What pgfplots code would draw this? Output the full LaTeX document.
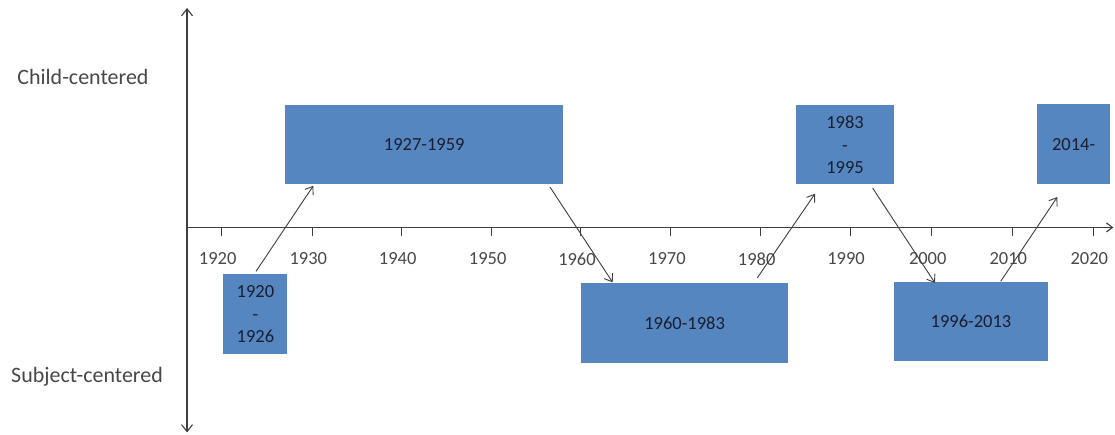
\documentclass[border=0pt]{standalone}
\usepackage{pgfplots}
\pgfplotsset{compat=1.18}
\usepackage{fontspec}
\setmainfont{Carlito}
\usetikzlibrary{arrows.meta}

\definecolor{boxblue}{RGB}{85,134,192}
\definecolor{boxtext}{RGB}{25,30,48}
\definecolor{axisgray}{RGB}{62,62,62}
\definecolor{labelgray}{RGB}{72,72,72}

\begin{document}
\begin{tikzpicture}
\begin{axis}[
    scale only axis,
    width=927.4pt, height=425pt,
    xmin=1916.14, xmax=2019.3,
    ymin=-205.3, ymax=219.7,
    axis x line=middle,
    axis y line=left,
    x axis line style={-{Straight Barb[length=6pt,width=9pt]}},
    y axis line style={{Straight Barb[length=7pt,width=11pt]}-{Straight Barb[length=7pt,width=11pt]}},
    axis line style={axisgray, line width=1.1pt},
    xtick={1920,1930.09,1940.04,1950.07,1960.01,1970.03,1980.02,1989.97,1999.07,2008.04,2017.06},
    xticklabels={1920,1930,1940,1950,1960,1970,1980,1990,2000,2010,2020},
    ytick=\empty,
    tick align=outside,
    major tick length=9pt,
    x tick style={axisgray, line width=1pt},
    xticklabel style={font=\fontsize{18.5}{20}\selectfont, text=labelgray, xshift=-4pt, yshift=-13pt},
    clip=false,
]

% periods (boxes)
\addplot[fill=boxblue, draw=none] coordinates {(1920.18,-47) (1927.31,-47) (1927.31,-127) (1920.18,-127)} -- cycle;
\addplot[fill=boxblue, draw=none] coordinates {(1927.05,43) (1958.04,43) (1958.04,123) (1927.05,123)} -- cycle;
\addplot[fill=boxblue, draw=none] coordinates {(1960.01,-55.6) (1983.10,-55.6) (1983.10,-135.6) (1960.01,-135.6)} -- cycle;
\addplot[fill=boxblue, draw=none] coordinates {(1983.94,43) (1994.90,43) (1994.90,123) (1983.94,123)} -- cycle;
\addplot[fill=boxblue, draw=none] coordinates {(1994.90,-55) (2011.98,-55) (2011.98,-134) (1994.90,-134)} -- cycle;
\addplot[fill=boxblue, draw=none] coordinates {(2010.82,43.4) (2018.92,43.4) (2018.92,123.4) (2010.82,123.4)} -- cycle;

% transitions
\addplot[axisgray, line width=0.9pt, -{Straight Barb[length=7pt,width=10pt]}] coordinates {(1923.82,-44) (1930.20,41.7)};
\addplot[axisgray, line width=0.9pt, -{Straight Barb[length=7pt,width=10pt]}] coordinates {(1956.56,40.4) (1963.54,-55)};
\addplot[axisgray, line width=0.9pt, -{Straight Barb[length=7pt,width=10pt]}] coordinates {(1979.64,-50.6) (1986.07,33.7)};
\addplot[axisgray, line width=0.9pt, -{Straight Barb[length=7pt,width=10pt]}] coordinates {(1992.49,39.4) (1999.43,-55.6)};
\addplot[axisgray, line width=0.9pt, -{Straight Barb[length=7pt,width=10pt]}] coordinates {(2006.75,-54) (2013.05,30.4)};

% box labels
\begin{scope}[every node/.style={font=\fontsize{18.5}{22.5}\selectfont, text=boxtext, align=center}]
\node at (axis cs:1923.75,-87) {1920\\-\\1926};
\node at (axis cs:1942.55,82.7) {1927-1959};
\node at (axis cs:1971.55,-95.6) {1960-1983};
\node at (axis cs:1989.42,82.7) {1983\\-\\1995};
\node at (axis cs:2003.44,-94.5) {1996-2013};
\node at (axis cs:2014.87,83.4) {2014-};
\end{scope}

% side labels
\node[font=\fontsize{22}{24}\selectfont, text=labelgray] at (axis cs:1904.55,150.7) {Child-centered};
\node[font=\fontsize{22}{24}\selectfont, text=labelgray] at (axis cs:1905.0,-149.3) {Subject-centered};

\path (axis cs:1895.31,227.7) rectangle (axis cs:2019.48,-207.3);
\end{axis}
\end{tikzpicture}
\end{document}
